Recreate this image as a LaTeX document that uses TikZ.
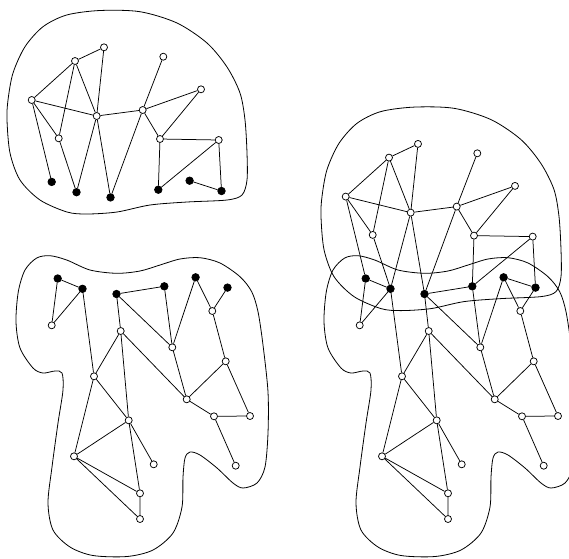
\documentclass[tikz,border=0pt]{standalone}
\usepackage{tikz}

% shared (black) vertices, in the frame of the lower graph
\newcommand{\blackdots}{%
  \node[bdot] (c1) at (57.7,278.5) {};
  \node[bdot] (c2) at (82.5,288.8) {};
  \node[bdot] (c3) at (116.5,294) {};
  \node[bdot] (c4) at (164.3,286.3) {};
  \node[bdot] (c5) at (195.6,277.3) {};
  \node[bdot] (c6) at (227.5,287.6) {};
}

% upper graph
\newcommand{\uppergraph}{%
  \draw[blob] plot[smooth cycle] coordinates {
    (100,10.5) (140,11.7) (177,23) (207,43) (227,67) (240,93) (245,120)
    (247,153) (247,180) (242,195) (227,200) (187,202) (150,205) (117,212)
    (87,214) (67,212) (40,200) (20,180) (10,153) (7,120) (8,100) (13,73)
    (25,46.7) (43,26.7) (66.7,15)};
  \node[wdot] (a1) at (104,47.3) {};
  \node[wdot] (a2) at (75,61) {};
  \node[wdot] (a3) at (163.3,56.7) {};
  \node[wdot] (a4) at (201,89.3) {};
  \node[wdot] (a5) at (31.7,100) {};
  \node[wdot] (a6) at (96.7,116) {};
  \node[wdot] (a7) at (142.7,110) {};
  \node[wdot] (a8) at (58.7,138.3) {};
  \node[wdot] (a9) at (160,139) {};
  \node[wdot] (a10) at (218.7,140) {};
  \draw[edge] (a1)--(a2) (a2)--(a5) (a2)--(a8) (a2)--(a6) (a1)--(a6)
    (a5)--(a6) (a5)--(a8) (a5)--(c1) (a8)--(c2) (a6)--(c2) (a6)--(c3)
    (a6)--(a7) (a7)--(a3) (a7)--(a4) (a7)--(c3) (a7)--(a9) (a4)--(a9)
    (a9)--(a10) (a9)--(c4) (a10)--(c4) (a10)--(c6) (c5)--(c6);
}

% lower graph
\newcommand{\lowergraph}{%
  \draw[blob] plot[smooth cycle] coordinates {
    (25,270) (36.7,258) (50,255.7) (66.7,260) (90,270) (116.7,273.3)
    (140,271) (160,265) (180,259) (200,257.7) (220,263) (240,276.7)
    (251.7,291.7) (258,311.7) (263,345) (268,392) (268,433) (265,467)
    (257,483) (243,488) (233,483) (217,468) (200,455) (190,452) (185,458)
    (183,477) (182,507) (173,533) (153,550) (127,556.5) (93,555.5) (70,547)
    (53,530) (48,503) (52,467) (58,423) (63,390) (62,373) (55,371)
    (43,373) (33,368) (20,348) (16,321.7) (18.3,291.7)};
  \node[wdot] (d1) at (51.7,325.3) {};
  \node[wdot] (d2) at (120.7,331) {};
  \node[wdot] (d3) at (172.3,347.3) {};
  \node[wdot] (d4) at (212.3,311) {};
  \node[wdot] (d5) at (225.7,361.3) {};
  \node[wdot] (d6) at (94,376.3) {};
  \node[wdot] (d7) at (186.7,399.3) {};
  \node[wdot] (d8) at (214,416.3) {};
  \node[wdot] (d9) at (250,416) {};
  \node[wdot] (d10) at (128.7,420.3) {};
  \node[wdot] (d11) at (74,456.3) {};
  \node[wdot] (d12) at (153.7,464.3) {};
  \node[wdot] (d13) at (235.7,465.7) {};
  \node[wdot] (d14) at (140,493.3) {};
  \node[wdot] (d15) at (140,519) {};
  \draw[edge] (c1)--(c2) (c1)--(d1) (c2)--(d1) (c2)--(d6) (c3)--(c4)
    (c3)--(d2) (c3)--(d3) (c4)--(d3) (c5)--(d3) (c5)--(d4) (c6)--(d4)
    (d4)--(d5) (d5)--(d7) (d5)--(d9) (d2)--(d6) (d2)--(d7) (d2)--(d10)
    (d10)--(d14) (d3)--(d7) (d7)--(d8) (d8)--(d9) (d8)--(d13) (d6)--(d10)
    (d6)--(d11) (d10)--(d11) (d10)--(d12) (d11)--(d14) (d11)--(d15)
    (d14)--(d15);
}

\begin{document}
\begin{tikzpicture}[
  x=1pt,y=-1pt,
  wdot/.style={circle,draw,fill=white,line width=0.75pt,minimum size=7pt,inner sep=0pt},
  bdot/.style={circle,draw,fill=black,line width=0.75pt,minimum size=7.5pt,inner sep=0pt},
  blob/.style={line width=0.8pt},
  edge/.style={line width=0.75pt}
]
  \clip (0,0) rectangle (569,558);
  % upper graph alone
  \begin{scope}[name prefix=u-]
    \begin{scope}[shift={(-6,-96.6)}]
      \blackdots
    \end{scope}
    \uppergraph
  \end{scope}
  % lower graph alone
  \begin{scope}[name prefix=l-]
    \blackdots
    \lowergraph
  \end{scope}
  % both glued along the black vertices
  \begin{scope}[shift={(308,0)},name prefix=r-]
    \blackdots
    \lowergraph
    \begin{scope}[shift={(6,96.6)}]
      \uppergraph
    \end{scope}
  \end{scope}
\end{tikzpicture}
\end{document}
